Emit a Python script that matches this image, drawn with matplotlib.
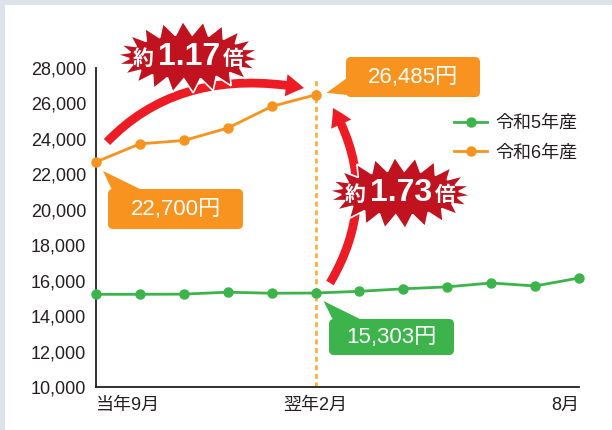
import numpy as np
import matplotlib
matplotlib.use('Agg')
import matplotlib.pyplot as plt
from matplotlib.patches import FancyBboxPatch, Polygon, Rectangle, FancyArrowPatch
from matplotlib.path import Path
from matplotlib.ticker import FuncFormatter

plt.rcParams['font.family'] = ['Liberation Sans', 'Noto Sans CJK JP']

# ---- data ----
months = list(range(12))                      # 当年9月 ... 8月
r5_price = [15230, 15230, 15240, 15350, 15290, 15303,
            15400, 15540, 15650, 15870, 15700, 16150]
r6_price = [22700, 23720, 23910, 24610, 25830, 26485]
series_names = ['令和5年産', '令和6年産']
x_tick_pos = [0, 5, 11]
x_tick_labels = ['当年9月', '翌年2月', '8月']
y_ticks = list(range(10000, 28001, 2000))

GREEN = '#3cb44b'
ORANGE = '#f7931e'
RED = '#ed1c24'
DARKRED = '#c1121f'
INK = '#231f20'

W, H = 612, 430
fig = plt.figure(figsize=(W / 100, H / 100), dpi=100)
fig.patch.set_facecolor('white')

ax = fig.add_axes([96 / W, 43 / H, (579 - 96) / W, (387 - 68) / H])
ax.set_xlim(0, 11)
ax.set_ylim(10000, 28000)
for s in ['top', 'right']:
    ax.spines[s].set_visible(False)
for s in ['left', 'bottom']:
    ax.spines[s].set_color(INK)
    ax.spines[s].set_linewidth(1.3)

ax.vlines(5, 10000, 27430, colors='#fbb040', linewidth=2,
          linestyles=(0, (1.8, 1.3)), zorder=1)

ax.plot(months, r5_price, color=GREEN, lw=2, marker='o', ms=6.5,
        label=series_names[0], clip_on=False, zorder=3)
ax.plot(months[:len(r6_price)], r6_price, color=ORANGE, lw=2, marker='o', ms=6.5,
        label=series_names[1], clip_on=False, zorder=3)

ax.set_yticks(y_ticks)
ax.yaxis.set_major_formatter(FuncFormatter(lambda v, p: f'{int(v):,}'))
ax.set_xticks(x_tick_pos)
ax.set_xticklabels(x_tick_labels)
ax.tick_params(axis='both', length=0, labelsize=13, colors=INK)
ax.tick_params(axis='y', pad=7)
ax.tick_params(axis='x', pad=7)
lbls = ax.get_xticklabels()
lbls[0].set_ha('left')
lbls[-1].set_ha('right')

leg = ax.legend(loc='upper left', bbox_to_anchor=(454 / W, 1 - 115 / H),
                bbox_transform=fig.transFigure, frameon=False, fontsize=13,
                handlelength=1.85, handletextpad=0.45, labelspacing=0.68,
                borderpad=0, borderaxespad=0)
for t in leg.get_texts():
    t.set_color(INK)

# ---- overlay in image pixel coords (y down) ----
ov = fig.add_axes([0, 0, 1, 1])
ov.set_xlim(0, W)
ov.set_ylim(H, 0)
ov.axis('off')

ov.add_patch(Rectangle((0, 0), W, 5, color='#dde3ea', lw=0))
ov.add_patch(Rectangle((0, 0), 5, H, color='#dde3ea', lw=0))


def to_px(x, y):
    dx, dy = ax.transData.transform((x, y))
    return dx, H - dy


def callout(x0, y0, x1, y1, tip, base, color, text):
    ov.add_patch(Polygon([tip, base[0], base[1]], closed=True, fc=color, ec='none', zorder=4))
    ov.add_patch(FancyBboxPatch((x0, y0), x1 - x0, y1 - y0,
                                boxstyle='round,pad=0,rounding_size=5',
                                fc=color, ec='none', zorder=4))
    ov.text((x0 + x1) / 2, (y0 + y1) / 2 + 1, text, color='white', fontsize=16,
            ha='center', va='center', zorder=5)


px, py = to_px(5, r6_price[-1])
callout(346, 57, 480, 97, (px + 11, py - 2), [(347, 78), (347, 95)], ORANGE, '26,485円')
px, py = to_px(0, r6_price[0])
callout(108, 189, 243, 229, (px + 7, py + 9), [(112, 190), (142, 190)], ORANGE, '22,700円')
px, py = to_px(5, r5_price[5])
callout(329, 319, 454, 355, (px + 8, py + 8), [(333, 320), (362, 320)], GREEN, '15,303円')


def red_arrow(p0, c, p1):
    path = Path([p0, c, p1], [Path.MOVETO, Path.CURVE3, Path.CURVE3])
    ov.add_patch(FancyArrowPatch(path=path, mutation_scale=1,
                                 arrowstyle='simple,head_length=13,head_width=16,tail_width=6.3',
                                 fc=RED, ec='none', zorder=6))


def starburst(cx, cy, big, n=22):
    ang = np.linspace(0, 2 * np.pi, 2 * n, endpoint=False) + np.pi / (2 * n)
    rx = np.where(np.arange(2 * n) % 2 == 0, 72, 59)
    ry = np.where(np.arange(2 * n) % 2 == 0, 36, 22)
    pts = np.column_stack([cx + rx * np.cos(ang), cy + ry * np.sin(ang)])
    ov.add_patch(Polygon(pts, closed=True, fc=DARKRED, ec='white', lw=1.2, zorder=7))
    ov.text(cx - 45, cy + 2, '約', color='white', fontsize=15, fontweight='bold',
            ha='center', va='center', zorder=8)
    ov.text(cx + 1, cy, big, color='white', fontsize=23, fontweight='bold',
            ha='center', va='center', zorder=8)
    ov.text(cx + 45, cy + 2, '倍', color='white', fontsize=15, fontweight='bold',
            ha='center', va='center', zorder=8)


red_arrow((107, 142), (180, 66), (304, 88))
red_arrow((330, 283), (382, 195), (333, 108))
starburst(188, 57, '1.17')
starburst(400, 193, '1.73')

fig.savefig('out.png', dpi=100)
